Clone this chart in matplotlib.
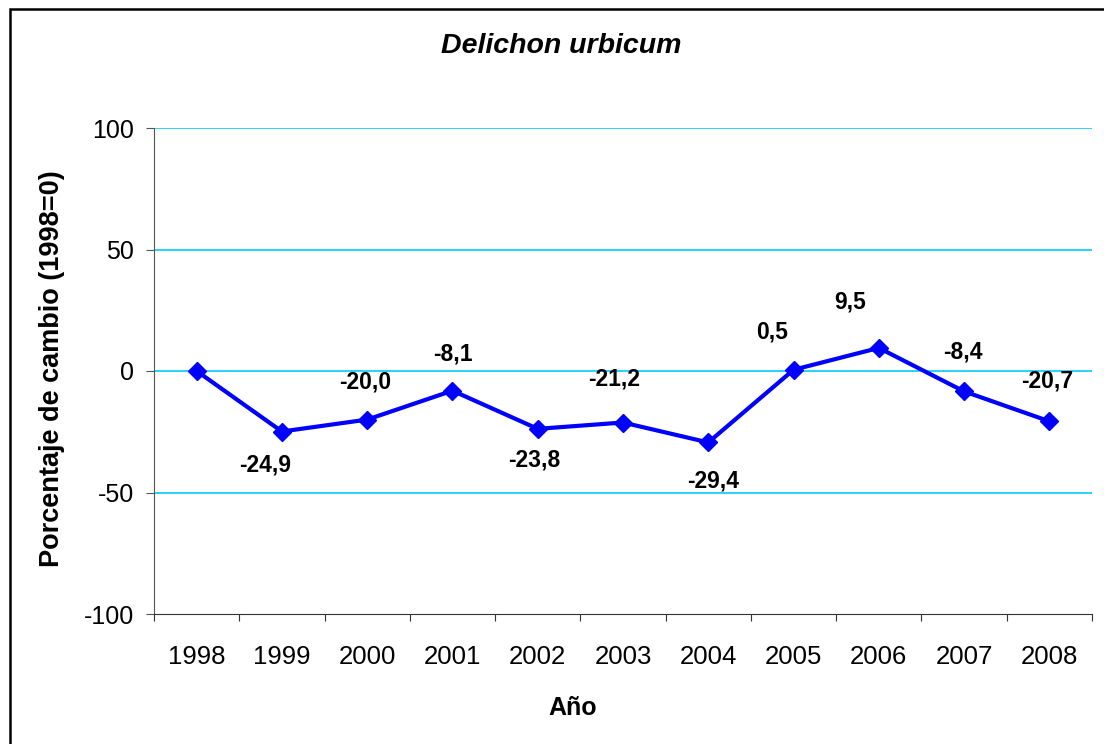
#Delichon urbicum - percentage change vs 1998
import numpy as np
import matplotlib
matplotlib.use('Agg')
import matplotlib.pyplot as plt
from matplotlib.patches import Rectangle

plt.rcParams['font.family'] = ['Liberation Sans', 'DejaVu Sans']
plt.rcParams['axes.unicode_minus'] = False

#Data
years = ['1998', '1999', '2000', '2001', '2002', '2003', '2004', '2005', '2006', '2007', '2008']
change = [0.0, -24.9, -20.0, -8.1, -23.8, -21.2, -29.4, 0.5, 9.5, -8.4, -20.7]
value_labels = ['', '-24,9', '-20,0', '-8,1', '-23,8', '-21,2', '-29,4', '0,5', '9,5', '-8,4', '-20,7']
#hand placed label offsets (pixels) as in the original sheet
label_dx = [0, -17, -2, 0, -3, -9, 5, -21, -29, -1, -2]
label_dy = [0, -33, 38, 37, -31, 44, -39, 38, 46, 39, 40]

fig = plt.figure(figsize=(11.04, 7.44), dpi=100)
ax = fig.add_axes([154/1104, 1 - 614/744, (1092 - 154)/1104, (614 - 128)/744])

x = np.arange(len(years))
ax.set_xlim(-0.5, len(years) - 0.5)
ax.set_ylim(-100, 100)

#gridlines
for g in [100, 50, 0, -50]:
    ax.axhline(g, color='#00CCFF', lw=1.2, zorder=1)

ax.plot(x, change, color='#0000FF', lw=3, marker='D', markersize=9, zorder=3, clip_on=False)

for xi, yi, lab, dx, dy in zip(x, change, value_labels, label_dx, label_dy):
    if lab:
        ax.annotate(lab, (xi, yi), xytext=(dx * 0.72, dy * 0.72), textcoords='offset points',
                    ha='center', va='center', fontsize=16.5, fontweight='bold')

#axes styling
for s in ['top', 'right']:
    ax.spines[s].set_visible(False)
ax.spines['left'].set_color('#555555')
ax.spines['bottom'].set_color('#333333')
ax.set_yticks([-100, -50, 0, 50, 100])
ax.tick_params(axis='y', direction='out', length=6, color='#555555', labelsize=18, pad=8.5)
ax.set_xticks(np.arange(-0.5, len(years), 1.0))
ax.set_xticklabels([])
ax.set_xticks(x, minor=True)
ax.set_xticklabels(years, minor=True)
ax.tick_params(axis='x', which='major', direction='out', length=5, color='#333333')
ax.tick_params(axis='x', which='minor', length=0, labelsize=18.5, pad=22.5)

fig.text(573/1104, 1 - 708/744, 'Año', ha='center', va='center', fontsize=18, fontweight='bold')
fig.text(52/1104, 1 - 369/744, 'Porcentaje de cambio (1998=0)', ha='center', va='center',
         rotation=90, fontsize=19.5, fontweight='bold')
fig.text(561/1104, 1 - 46/744, 'Delichon urbicum', ha='center', va='center',
         fontsize=20.5, style='italic', fontweight='bold')

#outer chart border
fig.patches.append(Rectangle((9.5/1104, -0.1), 1.2, 1 - 8.5/744 + 0.1, transform=fig.transFigure,
                             fill=False, edgecolor='black', lw=1.8))

fig.savefig('out.png', dpi=100)
